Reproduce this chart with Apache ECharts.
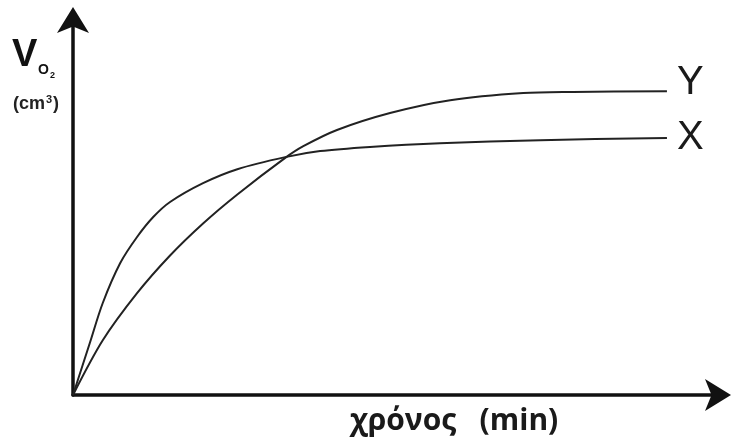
<!DOCTYPE html>
<html>
<head>
<meta charset="utf-8">
<script src="https://cdn.jsdelivr.net/npm/echarts@6/dist/echarts.min.js"></script>
<style>
html,body{margin:0;padding:0;background:#fff;}
#chart{width:734px;height:443px;}
</style>
</head>
<body>
<div id="chart"></div>
<script>
// Curve X (fast rise, lower plateau)
const seriesXName = 'X';
const curveX = [
  [0, 0], [2.6, 13.8], [4.6, 24.4], [7.3, 35.0], [9.9, 41.9], [12.4, 47.2],
  [15.0, 51.2], [20.1, 56.2], [25.4, 59.9], [32.8, 63.1], [38.2, 64.7],
  [45.9, 65.8], [56.7, 66.8], [72.2, 67.6], [91.8, 68.2]
];
// Curve Y (slower rise, higher plateau)
const seriesYName = 'Y';
const curveY = [
  [0, 0], [4.6, 14.5], [9.9, 27.0], [15.0, 37.0], [20.1, 45.5], [25.4, 53.2],
  [32.8, 62.9], [35.6, 66.0], [40.8, 70.3], [49.0, 74.8], [58.3, 78.2],
  [69.6, 80.1], [77.3, 80.4], [91.8, 80.6]
];
const xAxisTitle = 'χρόνος   (min)';
const yAxisTitle = 'V';
const yAxisSub = 'O';
const yAxisSub2 = '2';
const yUnit = '(cm';
const yUnitSup = '3';

const chart = echarts.init(document.getElementById('chart'));
const axisLine = {
  show: true, onZero: false,
  symbol: ['none', 'arrow'], symbolSize: [24, 26], symbolOffset: [0, 11],
  lineStyle: { color: '#111', width: 3.5 }
};
const lineStyle = { color: '#222', width: 2 };
const endLabelBase = {
  show: true, formatter: '{a}', color: '#1a1a1a',
  fontFamily: 'Liberation Sans, Arial, sans-serif', fontSize: 40, distance: 10
};
const f = (w, s) => w + ' ' + s + 'px "Liberation Sans", Arial, sans-serif';
chart.setOption({
  animation: false,
  grid: { left: 73, right: 14, top: 18, bottom: 48 },
  xAxis: {
    type: 'value', min: 0, max: 100,
    axisLine: axisLine, axisTick: { show: false }, axisLabel: { show: false },
    splitLine: { show: false }
  },
  yAxis: {
    type: 'value', min: 0, max: 100,
    axisLine: axisLine, axisTick: { show: false }, axisLabel: { show: false },
    splitLine: { show: false }
  },
  graphic: [
    { type: 'text', left: 12, top: 37, style: { text: yAxisTitle, font: f('bold', 38), fill: '#111' } },
    { type: 'text', left: 38, top: 63, style: { text: yAxisSub, font: f('bold', 14), fill: '#111' } },
    { type: 'text', left: 50, top: 71, style: { text: yAxisSub2, font: f('bold', 9), fill: '#111' } },
    { type: 'text', left: 13, top: 95, style: { text: yUnit, font: f('bold', 18), fill: '#222' } },
    { type: 'text', left: 46, top: 94, style: { text: yUnitSup, font: f('bold', 11), fill: '#222' } },
    { type: 'text', left: 53, top: 95, style: { text: ')', font: f('bold', 18), fill: '#222' } },
    { type: 'text', left: 350, top: 406, style: { text: xAxisTitle, font: 'bold 30px "Open Sans", sans-serif', fill: '#1a1a1a' } }
  ],
  series: [
    {
      name: seriesYName, type: 'line', data: curveY, smooth: 0.3,
      showSymbol: false, lineStyle: lineStyle,
      endLabel: Object.assign({}, endLabelBase, { offset: [0, -8] })
    },
    {
      name: seriesXName, type: 'line', data: curveX, smooth: 0.3,
      showSymbol: false, lineStyle: lineStyle,
      endLabel: Object.assign({}, endLabelBase, { offset: [0, 0] })
    }
  ]
});
</script>
</body>
</html>
